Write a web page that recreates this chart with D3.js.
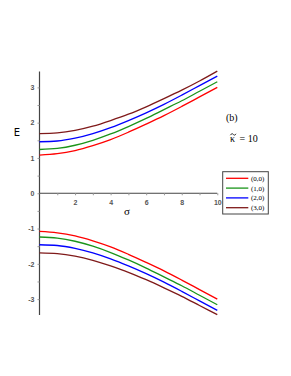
<!DOCTYPE html>
<html><head><meta charset="utf-8">
<script src="https://cdn.jsdelivr.net/npm/d3@7"></script>
<style>body{margin:0;background:#fff}</style>
</head><body>
<svg id="c" width="291" height="376"></svg>
<script>
const sigma = [0,1,2,3,4,5,6,7,8,9,10];
const seriesNames = ["(0,0)","(1,0)","(2,0)","(3,0)"];
const colors = ["#ff0000","#1a941a","#0000ff","#7f1a1a"];
const upper00 = [1.08,1.12,1.21,1.35,1.52,1.73,1.96,2.20,2.46,2.73,3.00];
const upper10 = [1.24,1.27,1.36,1.50,1.68,1.89,2.12,2.37,2.62,2.89,3.16];
const upper20 = [1.46,1.48,1.56,1.69,1.86,2.06,2.28,2.52,2.78,3.05,3.32];
const upper30 = [1.69,1.71,1.78,1.90,2.06,2.24,2.45,2.68,2.92,3.18,3.46];
const lower00 = [-1.08,-1.12,-1.21,-1.35,-1.52,-1.73,-1.96,-2.20,-2.46,-2.73,-3.00];
const lower10 = [-1.24,-1.27,-1.36,-1.50,-1.68,-1.89,-2.12,-2.37,-2.62,-2.89,-3.16];
const lower20 = [-1.46,-1.48,-1.56,-1.69,-1.86,-2.06,-2.28,-2.52,-2.78,-3.05,-3.32];
const lower30 = [-1.69,-1.71,-1.78,-1.90,-2.06,-2.24,-2.45,-2.68,-2.92,-3.18,-3.44];
const xTicks = [2,4,6,8,10];
const yTicks = [-3,-2,-1,0,1,2,3];

const upper = [upper00,upper10,upper20,upper30];
const lower = [lower00,lower10,lower20,lower30];

const svg = d3.select("#c");
const x = d3.scaleLinear().domain([0,10]).range([39.5,217.3]);
const y = d3.scaleLinear().domain([-3.45,3.45]).range([315,71.5]);

const axisCol = "#444";
const tickFont = "Liberation Sans, Arial, sans-serif";

// x axis
const gx = svg.append("g").attr("transform",`translate(0,${y(0)})`);
gx.call(d3.axisBottom(x).tickValues(d3.range(1,11)).tickSize(2).tickFormat(d => xTicks.includes(d) ? d : ""));
gx.select(".domain").attr("d",`M${x(0)},0H${x(10)}`).attr("stroke",axisCol).attr("stroke-width",1);
gx.selectAll(".tick line").attr("stroke","#999");
gx.selectAll(".tick text").attr("font-family",tickFont).attr("font-size",7).attr("font-weight","bold").attr("fill","#555").attr("dy","0.9em");

// y axis
const gy = svg.append("g").attr("transform",`translate(${x(0)},0)`);
gy.call(d3.axisLeft(y).tickValues(d3.range(-3,3.01,0.5)).tickSize(2).tickFormat(d => yTicks.includes(d) ? d : ""));
gy.select(".domain").attr("d",`M0,${y(3.45)}V${y(-3.45)}`).attr("stroke",axisCol).attr("stroke-width",1.2);
gy.selectAll(".tick line").attr("stroke","#999");
gy.selectAll(".tick text").attr("font-family",tickFont).attr("font-size",7).attr("font-weight","bold").attr("fill","#555").attr("x",-5);

const line = d3.line().x((d,i)=>x(sigma[i])).y(d=>y(d)).curve(d3.curveMonotoneX);
upper.forEach((s,i)=>svg.append("path").attr("d",line(s)).attr("fill","none").attr("stroke",colors[i]).attr("stroke-width",1.3));
lower.forEach((s,i)=>svg.append("path").attr("d",line(s)).attr("fill","none").attr("stroke",colors[i]).attr("stroke-width",1.3));

// axis titles
svg.append("text").attr("x",17).attr("y",136).attr("text-anchor","middle").attr("font-family","DejaVu Sans, sans-serif").attr("font-size",10).text("E");
svg.append("text").attr("x",127).attr("y",215).attr("text-anchor","middle").attr("font-family","Liberation Serif, serif").attr("font-size",11).text("σ");

// annotations
const serif = "Liberation Serif, Times New Roman, serif";
svg.append("text").attr("x",226).attr("y",121).attr("font-family",serif).attr("font-size",10).text("(b)");
svg.append("text").attr("x",230).attr("y",142).attr("font-family",serif).attr("font-size",10)
  .text("κ\u2009 = 10");
// tilde accent over kappa
svg.append("path").attr("d","M230.3,135.2 C231.5,133.4 232.5,133.4 233.3,134.4 S235,135.6 236,133.8")
  .attr("fill","none").attr("stroke","#000").attr("stroke-width",0.8);

// legend
const lg = svg.append("g");
lg.append("rect").attr("x",222.7).attr("y",171.7).attr("width",45.6).attr("height",42.3).attr("fill","#fff").attr("stroke","#444").attr("stroke-width",1);
seriesNames.forEach((n,i)=>{
  const yy = 178.3 + i*9.8;
  lg.append("line").attr("x1",226).attr("x2",248.3).attr("y1",yy).attr("y2",yy).attr("stroke",colors[i]).attr("stroke-width",1.3);
  lg.append("text").attr("x",251).attr("y",yy+2.5).attr("font-family",serif).attr("font-size",7).text(n);
});
</script>
</body></html>
